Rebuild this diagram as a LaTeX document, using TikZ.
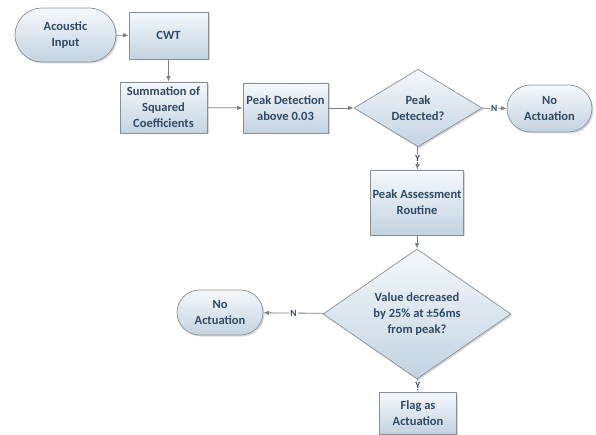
\documentclass[tikz,border=0pt]{standalone}
\usepackage{fontspec}
\setmainfont{Carlito}
\usepackage{xcolor}
\usepackage{tikz}
\usetikzlibrary{shapes.geometric,shapes.misc,shadows,arrows.meta}

\definecolor{boxtop}{HTML}{F5F8FB}
\definecolor{boxbot}{HTML}{C3D3E1}
\definecolor{boxline}{HTML}{8A8E92}
\definecolor{boxtext}{HTML}{2E4A66}
\definecolor{flowline}{HTML}{808080}

\begin{document}
\begin{tikzpicture}[x=1pt,y=-1pt,
  base/.style={draw=boxline,line width=0.7pt,top color=boxtop,bottom color=boxbot,
    text=boxtext,align=center,inner sep=0pt,
    font=\bfseries\fontsize{12.5}{16}\selectfont,
    drop shadow={shadow xshift=1.5pt,shadow yshift=-1.5pt,opacity=0.3}},
  process/.style={base,rectangle},
  terminal/.style={base,rounded rectangle},
  decision/.style={base,diamond},
  flow/.style={draw=flowline,line width=0.8pt,-{Latex[length=5.5pt,width=4.5pt]}},
  yn/.style={fill=white,text=boxtext,inner sep=1pt,font=\bfseries\fontsize{9.5}{10}\selectfont}]
\useasboundingbox (0,0) rectangle (596,435);

\node[terminal,minimum width=101pt,minimum height=54pt] (acin) at (65.5,35) {Acoustic\\Input};
\node[process,minimum width=79pt,minimum height=47pt] (cwt) at (168.5,35.5) {CWT};
\node[process,minimum width=87pt,minimum height=51pt] (sum) at (163.5,107.5) {Summation of\\Squared\\Coefficients};
\node[process,minimum width=85pt,minimum height=50pt] (pdet) at (285.5,108) {Peak Detection\\above 0.03};
\node[decision,minimum width=128pt,minimum height=68pt] (dpeak) at (418,108) {Peak\\Detected?};
\node[terminal,minimum width=85pt,minimum height=47pt] (noact) at (549.5,108.5) {No\\Actuation};
\node[process,minimum width=93pt,minimum height=65pt] (passess) at (417,202.5) {Peak Assessment\\Routine};
\node[decision,minimum width=188pt,minimum height=102pt] (dvalue) at (417,314) {Value decreased\\by 25\% at ±56ms\\from peak?};
\node[terminal,minimum width=86pt,minimum height=45pt] (noactb) at (220,312.5) {No\\Actuation};
\node[process,minimum width=77pt,minimum height=42pt] (flag) at (418,413) {Flag as\\Actuation};

\draw[flow] (acin) -- (cwt);
\draw[flow] (cwt.south) -- (cwt.south |- sum.north);
\draw[flow] (sum) -- (pdet);
\draw[flow] (pdet) -- (dpeak);
\draw[flow] (dpeak) -- node[yn] {N} (noact);
\draw[flow] (dpeak) -- node[yn] {Y} (passess);
\draw[flow] (passess) -- (dvalue);
\draw[flow] (dvalue) -- node[yn] {N} (noactb);
\draw[flow] (dvalue) -- node[yn] {Y} (flag);
\end{tikzpicture}
\end{document}
